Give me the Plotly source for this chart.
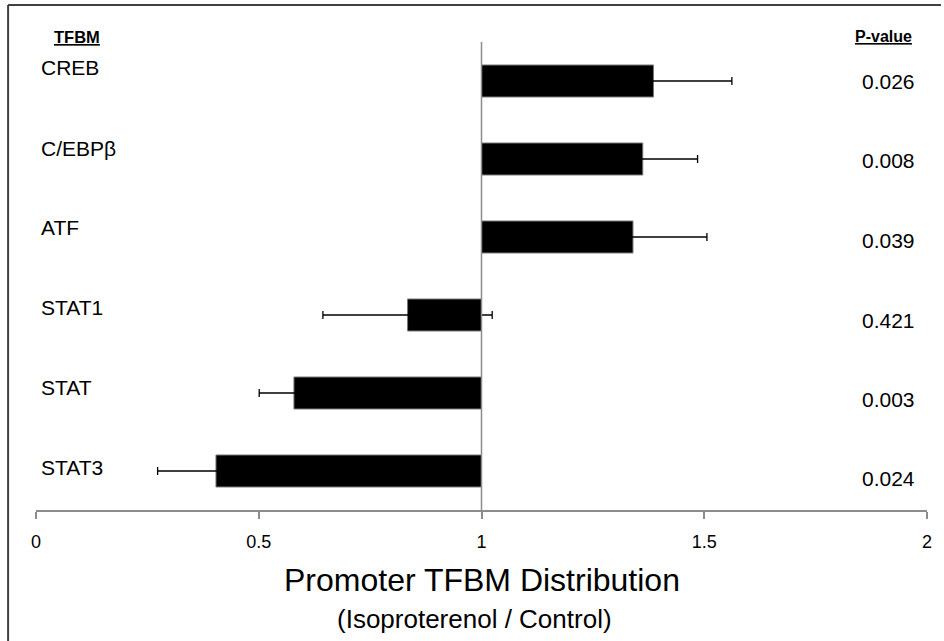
import plotly.graph_objects as go

categories = ["CREB", "C/EBPβ", "ATF", "STAT1", "STAT", "STAT3"]
ratios = [1.386, 1.362, 1.340, 0.834, 0.579, 0.404]
errors = [0.176, 0.123, 0.166, 0.190, 0.078, 0.131]
p_values = ["0.026", "0.008", "0.039", "0.421", "0.003", "0.024"]
tick_vals = [0, 0.5, 1, 1.5, 2]
tick_text = ["0", "0.5", "1", "1.5", "2"]

W, H = 944, 641
L, R, T, B = 36, 14, 42, 131
PW, PH = W - L - R, H - T - B

def px_x(px):
    return (px - L) / PW

def px_y(py):
    return (H - B - py) / PH

FONT = "Liberation Sans, Arial, sans-serif"

fig = go.Figure()
fig.add_trace(go.Bar(
    y=categories,
    x=[r - 1 for r in ratios],
    base=[1] * len(ratios),
    orientation="h",
    width=0.41,
    marker=dict(color="black", line=dict(color="#777777", width=1)),
    showlegend=False,
    hoverinfo="skip",
))
fig.add_trace(go.Scatter(
    y=categories,
    x=ratios,
    mode="markers",
    marker=dict(size=1, color="rgba(0,0,0,0)"),
    error_x=dict(type="data", array=errors, symmetric=True,
                 color="black", thickness=1.3, width=4),
    showlegend=False,
    hoverinfo="skip",
))

shapes = [
    dict(type="line", xref="x", yref="paper", x0=1, x1=1, y0=0, y1=1,
         line=dict(color="#8c8c8c", width=1.5), layer="above"),
    dict(type="line", xref="paper", yref="paper",
         x0=px_x(8), x1=px_x(8), y0=px_y(5), y1=px_y(641),
         line=dict(color="#404040", width=2)),
    dict(type="line", xref="paper", yref="paper",
         x0=px_x(8), x1=px_x(944), y0=px_y(5), y1=px_y(5),
         line=dict(color="#404040", width=2)),
]

label_y = [67, 148, 227, 307, 387, 467]
p_y = [81, 160, 240, 320, 399, 478]
annotations = []
for c, yy in zip(categories, label_y):
    annotations.append(dict(text=c, xref="paper", yref="paper", x=px_x(39), y=px_y(yy),
                            xanchor="left", yanchor="middle", showarrow=False,
                            font=dict(family=FONT, size=21, color="black")))
for p, yy in zip(p_values, p_y):
    annotations.append(dict(text=p, xref="paper", yref="paper", x=px_x(920), y=px_y(yy),
                            xanchor="right", yanchor="middle", showarrow=False,
                            font=dict(family=FONT, size=21, color="black")))
annotations += [
    dict(text="<b><u>TFBM</u></b>", xref="paper", yref="paper", x=px_x(77.5), y=px_y(37),
         xanchor="center", yanchor="middle", showarrow=False,
         font=dict(family=FONT, size=16.5, color="black")),
    dict(text="<b><u>P-value</u></b>", xref="paper", yref="paper", x=px_x(886.5), y=px_y(36),
         xanchor="center", yanchor="middle", showarrow=False,
         font=dict(family=FONT, size=16, color="black")),
    dict(text="Promoter TFBM Distribution", xref="paper", yref="paper", x=px_x(484), y=px_y(580),
         xanchor="center", yanchor="middle", showarrow=False,
         font=dict(family=FONT, size=32, color="black")),
    dict(text="(Isoproterenol / Control)", xref="paper", yref="paper", x=px_x(476), y=px_y(619),
         xanchor="center", yanchor="middle", showarrow=False,
         font=dict(family=FONT, size=26, color="black")),
]

fig.update_layout(
    width=W, height=H,
    margin=dict(l=L, r=R, t=T, b=B, pad=0),
    paper_bgcolor="white", plot_bgcolor="white",
    shapes=shapes, annotations=annotations,
    bargap=0.59,
    xaxis=dict(range=[0, 2], tickvals=tick_vals, ticktext=tick_text,
               showgrid=False, zeroline=False, showline=True,
               linecolor="#8c8c8c", linewidth=1.5,
               ticks="outside", ticklen=7, tickcolor="#8c8c8c", tickwidth=1.5,
               ticklabelstandoff=8,
               tickfont=dict(family=FONT, size=18, color="black")),
    yaxis=dict(categoryorder="array", categoryarray=categories, autorange="reversed",
               showticklabels=False, showgrid=False, zeroline=False, showline=False,
               ticks=""),
)

fig.write_html("out.html", config={"displayModeBar": False},
               post_script="document.body.style.margin='0';")
